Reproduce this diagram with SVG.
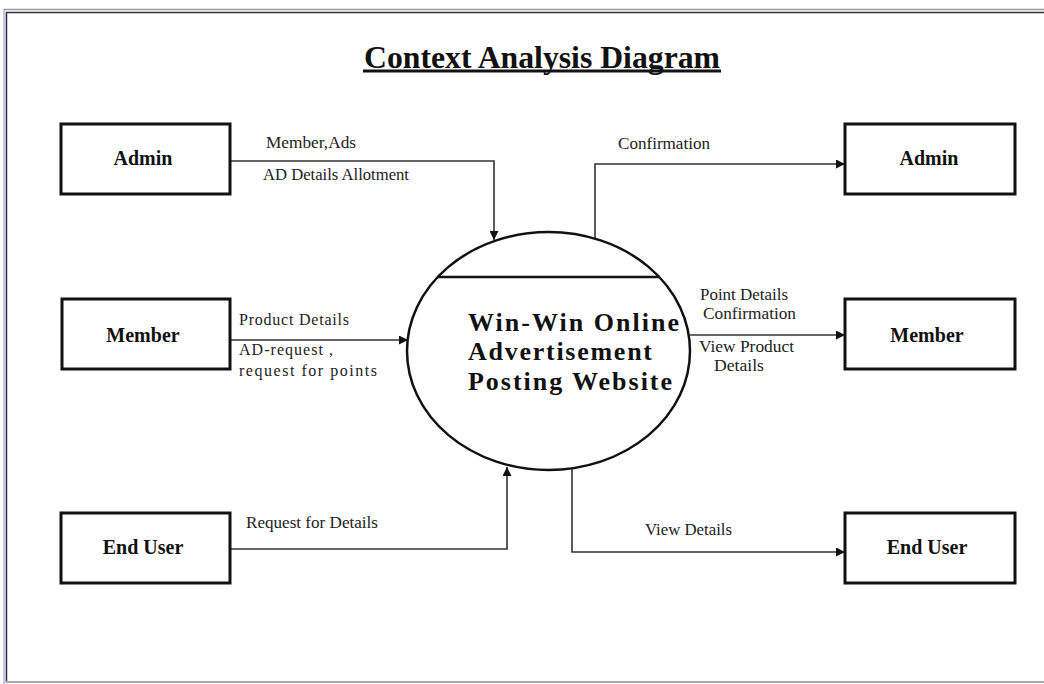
<svg xmlns="http://www.w3.org/2000/svg" width="1044" height="684" viewBox="0 0 1044 684">
  <style>
    .box { fill: #fff; stroke: #111; stroke-width: 3; }
    .name { font-family: "Liberation Serif", "Times New Roman", serif; font-weight: bold; font-size: 20px; fill: #111; text-anchor: middle; }
    .flow { fill: none; stroke: #333; stroke-width: 1.6; }
    .lbl { font-family: "Liberation Serif", "Times New Roman", serif; font-size: 16px; fill: #222; }
    .proc { font-family: "Liberation Serif", "Times New Roman", serif; font-weight: bold; font-size: 26px; fill: #111; }
  </style>
  <defs>
    <marker id="arrow" viewBox="0 0 10 10" refX="10" refY="5" markerWidth="11" markerHeight="9" markerUnits="userSpaceOnUse" orient="auto">
      <path d="M0,0 L10,5 L0,10 z" fill="#111"/>
    </marker>
  </defs>

  <rect x="0" y="0" width="1044" height="684" fill="#fff"/>

  <!-- page frame -->
  <g id="frame">
    <rect x="3" y="9" width="2.5" height="675" fill="#c8c8f0"/>
    <line x1="4" y1="9.5" x2="1044" y2="9.5" stroke="#999" stroke-width="1.5"/>
    <line x1="6" y1="12.5" x2="1044" y2="12.5" stroke="#333" stroke-width="1.5"/>
    <line x1="6.5" y1="12" x2="6.5" y2="682" stroke="#333" stroke-width="1.5"/>
    <line x1="6" y1="682" x2="1044" y2="682" stroke="#aaa" stroke-width="2"/>
  </g>

  <!-- title -->
  <g id="title">
    <text x="542" y="68" font-family="'Liberation Serif', 'Times New Roman', serif" font-weight="bold" font-size="32" text-anchor="middle" fill="#111" textLength="356" lengthAdjust="spacingAndGlyphs">Context Analysis Diagram</text>
    <rect x="363" y="69.5" width="358" height="3" fill="#111"/>
  </g>

  <!-- flows -->
  <g id="connectors">
    <polyline class="flow" points="230,161 494,161 494,240" marker-end="url(#arrow)"/>
    <polyline class="flow" points="595,238 595,164 845,164" marker-end="url(#arrow)"/>
    <line class="flow" x1="230" y1="340" x2="408" y2="340" marker-end="url(#arrow)"/>
    <line class="flow" x1="690" y1="335" x2="845" y2="335" marker-end="url(#arrow)"/>
    <polyline class="flow" points="230,549 507,549 507,467" marker-end="url(#arrow)"/>
    <polyline class="flow" points="572,468 572,552 845,552" marker-end="url(#arrow)"/>

    <text class="lbl" x="266" y="148" textLength="90" lengthAdjust="spacingAndGlyphs">Member,Ads</text>
    <text class="lbl" x="263" y="180" textLength="146" lengthAdjust="spacingAndGlyphs">AD Details Allotment</text>
    <text class="lbl" x="618" y="149" textLength="92" lengthAdjust="spacingAndGlyphs">Confirmation</text>
    <text class="lbl" x="239" y="325" textLength="110" lengthAdjust="spacing">Product Details</text>
    <text class="lbl" x="239" y="355" textLength="94" lengthAdjust="spacing">AD-request ,</text>
    <text class="lbl" x="239" y="376" textLength="138" lengthAdjust="spacing">request for points</text>
    <text class="lbl" x="700" y="300" textLength="88" lengthAdjust="spacingAndGlyphs">Point Details</text>
    <text class="lbl" x="703" y="319" textLength="93" lengthAdjust="spacingAndGlyphs">Confirmation</text>
    <text class="lbl" x="699" y="352" textLength="95" lengthAdjust="spacingAndGlyphs">View Product</text>
    <text class="lbl" x="714" y="371" textLength="50" lengthAdjust="spacingAndGlyphs">Details</text>
    <text class="lbl" x="246" y="528" textLength="132" lengthAdjust="spacingAndGlyphs">Request for Details</text>
    <text class="lbl" x="645" y="535" textLength="87" lengthAdjust="spacingAndGlyphs">View Details</text>
  </g>

  <!-- external entities -->
  <g id="admin-source">
    <rect class="box" x="61" y="124" width="169" height="70"/>
    <text class="name" x="143" y="165">Admin</text>
  </g>
  <g id="member-source">
    <rect class="box" x="62" y="299" width="168" height="70"/>
    <text class="name" x="143" y="342">Member</text>
  </g>
  <g id="enduser-source">
    <rect class="box" x="61" y="513" width="169" height="70"/>
    <text class="name" x="143" y="554">End User</text>
  </g>
  <g id="admin-sink">
    <rect class="box" x="845" y="124" width="170" height="70"/>
    <text class="name" x="929" y="165">Admin</text>
  </g>
  <g id="member-sink">
    <rect class="box" x="845" y="299" width="170" height="70"/>
    <text class="name" x="927" y="342">Member</text>
  </g>
  <g id="enduser-sink">
    <rect class="box" x="845" y="513" width="170" height="70"/>
    <text class="name" x="927" y="554">End User</text>
  </g>

  <!-- central process -->
  <g id="process">
    <ellipse cx="548.5" cy="351" rx="141.5" ry="119" fill="none" stroke="#111" stroke-width="2.5"/>
    <line x1="437" y1="277" x2="660" y2="277" stroke="#111" stroke-width="2.5"/>
    <text class="proc" x="468" y="331" textLength="211" lengthAdjust="spacing">Win-Win Online</text>
    <text class="proc" x="468" y="360" textLength="184" lengthAdjust="spacing">Advertisement</text>
    <text class="proc" x="468" y="390" textLength="204" lengthAdjust="spacing">Posting Website</text>
  </g>
</svg>
